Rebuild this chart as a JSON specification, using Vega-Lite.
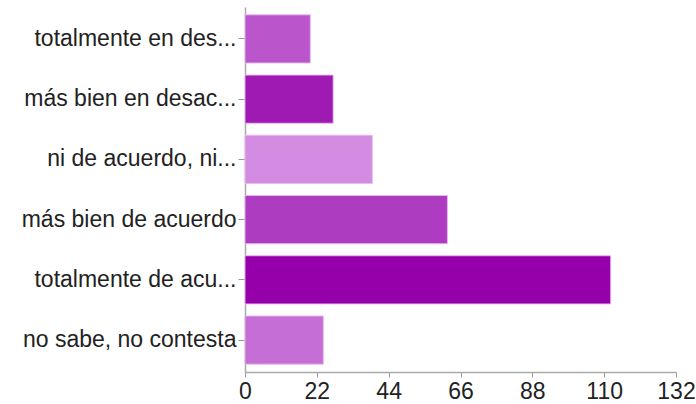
{
  "$schema": "https://vega.github.io/schema/vega-lite/v6.json",
  "autosize": "none",
  "padding": {"left": 245, "top": 7, "right": 20, "bottom": 32},
  "width": 431,
  "height": 365,
  "background": "white",
  "data": {
    "values": [
      {"respuesta": "totalmente en des...", "n": 20, "c": "c1"},
      {"respuesta": "más bien en desac...", "n": 27, "c": "c2"},
      {"respuesta": "ni de acuerdo, ni...", "n": 39, "c": "c3"},
      {"respuesta": "más bien de acuerdo", "n": 62, "c": "c4"},
      {"respuesta": "totalmente de acu...", "n": 112, "c": "c5"},
      {"respuesta": "no sabe, no contesta", "n": 24, "c": "c6"}
    ]
  },
  "mark": {"type": "bar", "strokeWidth": 1, "stroke": "#e9b8f0", "strokeOpacity": 0.9},
  "encoding": {
    "y": {
      "field": "respuesta",
      "type": "nominal",
      "sort": null,
      "title": null,
      "scale": {"paddingInner": 0.2, "paddingOuter": 0.13},
      "axis": {
        "labelFont": "Liberation Sans",
        "labelFontSize": 23,
        "labelColor": "#222",
        "labelLimit": 0,
        "labelPadding": 2,
        "tickSize": 7,
        "tickColor": "#999",
        "domainColor": "#aaa",
        "domainWidth": 1.5
      }
    },
    "x": {
      "field": "n",
      "type": "quantitative",
      "title": null,
      "scale": {"domain": [0, 132], "nice": false},
      "axis": {
        "values": [0, 22, 44, 66, 88, 110, 132],
        "grid": false,
        "labelFont": "Liberation Sans",
        "labelFontSize": 23,
        "labelColor": "#222",
        "labelPadding": 3,
        "labelFlush": false,
        "tickSize": 5,
        "tickColor": "#999",
        "domainColor": "#aaa",
        "domainWidth": 1.5
      }
    },
    "color": {
      "field": "c",
      "type": "nominal",
      "legend": null,
      "scale": {
        "domain": ["c1", "c2", "c3", "c4", "c5", "c6"],
        "range": ["#bb55cb", "#9e1ab3", "#d38ce1", "#ad3cc1", "#9500aa", "#c56ed6"]
      }
    }
  },
  "config": {"view": {"stroke": null}}
}
